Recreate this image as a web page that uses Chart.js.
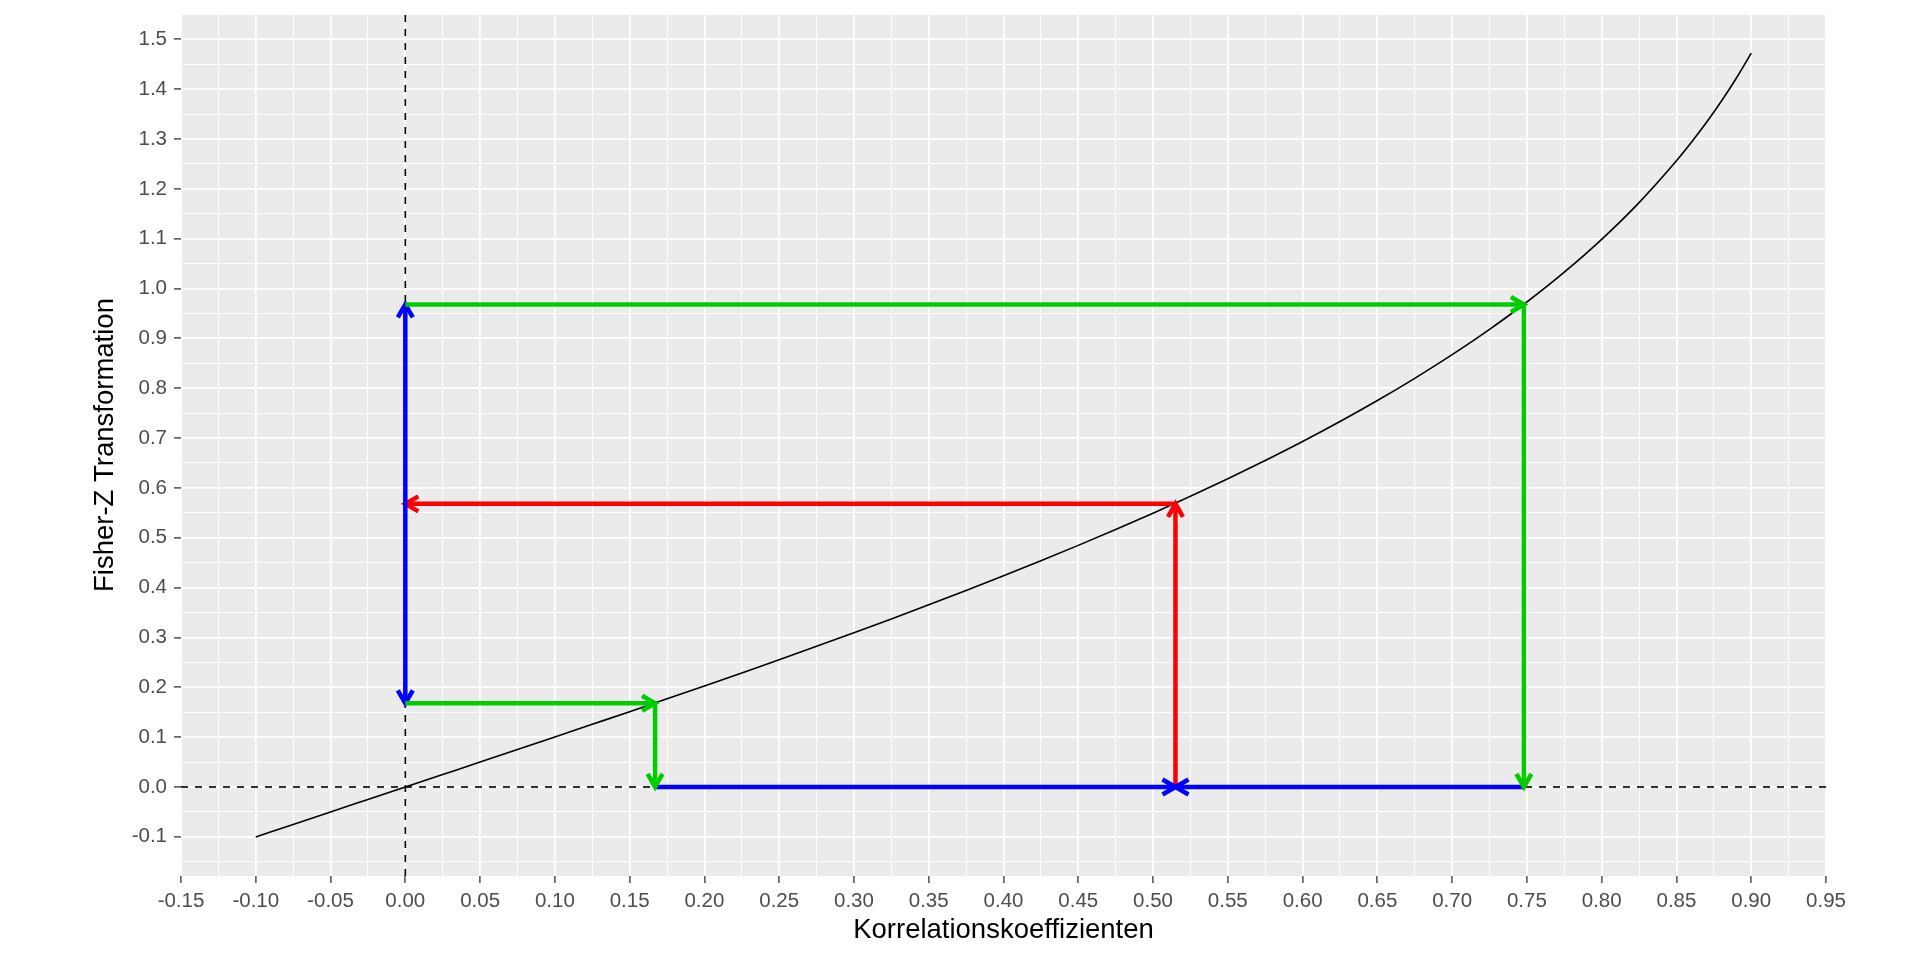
<!DOCTYPE html>
<html>
<head>
<meta charset="utf-8">
<title>Fisher-Z Transformation</title>
<script src="https://cdn.jsdelivr.net/npm/chart.js@4/dist/chart.umd.min.js"></script>
<style>
  body { margin: 0; background: #fff; }
  canvas { display: block; }
</style>
</head>
<body>
<canvas id="myChart" width="1920" height="960"></canvas>
<script>
// curve: correlation r against Fisher z
const rValues = [-0.1, -0.075, -0.05, -0.025, 0, 0.025, 0.05, 0.075, 0.1, 0.125, 0.15, 0.175,
  0.2, 0.225, 0.25, 0.275, 0.3, 0.325, 0.35, 0.375, 0.4, 0.425, 0.45, 0.475, 0.5, 0.525,
  0.55, 0.575, 0.6, 0.625, 0.65, 0.675, 0.7, 0.725, 0.75, 0.775, 0.8, 0.825, 0.85, 0.86,
  0.87, 0.88, 0.89, 0.9];
const zValues = [-0.1003, -0.0751, -0.05, -0.025, 0, 0.025, 0.05, 0.0751, 0.1003, 0.1257, 0.1511, 0.1768,
  0.2027, 0.2289, 0.2554, 0.2823, 0.3095, 0.3372, 0.3654, 0.3942, 0.4236, 0.4537, 0.4847, 0.5165, 0.5493, 0.5832,
  0.6184, 0.655, 0.6931, 0.7332, 0.7753, 0.8199, 0.8673, 0.9181, 0.973, 1.0328, 1.0986, 1.1723, 1.2562, 1.2933,
  1.3331, 1.3758, 1.4219, 1.4722];

// tick labels
const xTicks = [-0.15, -0.1, -0.05, 0, 0.05, 0.1, 0.15, 0.2, 0.25, 0.3, 0.35, 0.4, 0.45, 0.5,
  0.55, 0.6, 0.65, 0.7, 0.75, 0.8, 0.85, 0.9, 0.95];
const yTicks = [-0.1, 0, 0.1, 0.2, 0.3, 0.4, 0.5, 0.6, 0.7, 0.8, 0.9, 1.0, 1.1, 1.2, 1.3, 1.4, 1.5];

// the arrow points
const rLow = 0.167, zLow = 0.168;
const rHigh = 0.748, zHigh = 0.968;
const rMean = 0.515, zMean = 0.568;

const greenTopX = [0, rHigh],      greenTopY = [zHigh, zHigh];
const greenRightX = [rHigh, rHigh], greenRightY = [zHigh, 0];
const greenLowX = [0, rLow],       greenLowY = [zLow, zLow];
const greenDownX = [rLow, rLow],    greenDownY = [zLow, 0];
const blueUpX = [0, 0],            blueUpY = [zLow, zHigh];
const blueLeftX = [rLow, rMean],   blueLeftY = [0, 0];
const blueRightX = [rHigh, rMean], blueRightY = [0, 0];
const redUpX = [rMean, rMean],     redUpY = [0, zMean];
const redLeftX = [rMean, 0],       redLeftY = [zMean, zMean];

const X_MIN = -0.15, X_MAX = 0.95;
const Y_MIN = -0.1786, Y_MAX = 1.5508;

const FONT = "'Liberation Sans', Arial, sans-serif";

function pts(xs, ys) {
  return xs.map((x, i) => ({x: x, y: ys[i]}));
}

function withMinors(majors, lo, hi) {
  let step = majors[1] - majors[0];
  let out = [];
  for (let v = majors[0] - step / 2; v <= hi + 1e-9; v += step / 2) {
    v = Math.round(v * 1000) / 1000;
    if (v < lo - 1e-9) continue;
    let isMajor = majors.some(m => Math.abs(m - v) < 1e-6);
    out.push({value: v, minor: !isMajor});
  }
  return out;
}

function arrowSet(xs, ys, colour, order, both) {
  return {
    data: pts(xs, ys),
    showLine: true,
    borderColor: colour,
    borderWidth: 4.5,
    pointRadius: 0,
    order: order,
    arrowEnd: true,
    arrowStart: !!both
  };
}

const panelBg = {
  id: 'panelBg',
  beforeDraw(chart) {
    const {ctx, chartArea} = chart;
    ctx.save();
    ctx.fillStyle = '#EBEBEB';
    ctx.fillRect(chartArea.left, chartArea.top, chartArea.right - chartArea.left, chartArea.bottom - chartArea.top);
    ctx.restore();
  }
};

function drawHead(ctx, tip, from, colour) {
  const ang = Math.atan2(tip.y - from.y, tip.x - from.x);
  const len = 15, spread = Math.PI / 6;
  ctx.save();
  ctx.strokeStyle = colour;
  ctx.lineWidth = 4.5;
  ctx.lineJoin = 'miter';
  ctx.lineCap = 'butt';
  ctx.beginPath();
  ctx.moveTo(tip.x - len * Math.cos(ang - spread), tip.y - len * Math.sin(ang - spread));
  ctx.lineTo(tip.x, tip.y);
  ctx.lineTo(tip.x - len * Math.cos(ang + spread), tip.y - len * Math.sin(ang + spread));
  ctx.stroke();
  ctx.restore();
}

const arrowHeads = {
  id: 'arrowHeads',
  afterDatasetDraw(chart, args) {
    const ds = chart.data.datasets[args.index];
    const p = args.meta.data;
    if (!p || p.length < 2) return;
    if (ds.arrowEnd) drawHead(chart.ctx, p[p.length - 1], p[p.length - 2], ds.borderColor);
    if (ds.arrowStart) drawHead(chart.ctx, p[0], p[1], ds.borderColor);
  }
};

const gridWidth = (c) => (c.tick && c.tick.minor ? 0.9 : 1.8);
const tickCol = (c) => (c.tick && c.tick.minor ? 'rgba(0,0,0,0)' : '#333333');

let myChart = new Chart(document.getElementById('myChart'), {
  type: 'scatter',
  data: {
    datasets: [
      arrowSet(greenTopX, greenTopY, '#00CD00', 1),
      arrowSet(greenRightX, greenRightY, '#00CD00', 1),
      arrowSet(greenLowX, greenLowY, '#00CD00', 1),
      arrowSet(greenDownX, greenDownY, '#00CD00', 1),
      arrowSet(blueUpX, blueUpY, '#0000FF', 2, true),
      arrowSet(blueLeftX, blueLeftY, '#0000FF', 2),
      arrowSet(blueRightX, blueRightY, '#0000FF', 2),
      arrowSet(redUpX, redUpY, '#FF0000', 3),
      arrowSet(redLeftX, redLeftY, '#FF0000', 3),
      {
        data: pts(rValues, zValues),
        showLine: true,
        borderColor: '#000000',
        borderWidth: 1.6,
        pointRadius: 0,
        cubicInterpolationMode: 'monotone',
        order: 4
      },
      {
        // dashed line at z = 0
        data: pts([X_MIN, X_MAX], [0, 0]),
        showLine: true,
        borderColor: '#000000',
        borderWidth: 1.6,
        borderDash: [7, 7],
        pointRadius: 0,
        order: 5
      },
      {
        // dashed line at r = 0
        data: pts([0, 0], [Y_MIN, Y_MAX]),
        showLine: true,
        borderColor: '#000000',
        borderWidth: 1.6,
        borderDash: [7, 7],
        pointRadius: 0,
        order: 5
      }
    ]
  },
  options: {
    responsive: false,
    animation: false,
    events: [],
    layout: { padding: { top: 14, right: 94, left: 0, bottom: 0 } },
    plugins: {
      legend: { display: false },
      tooltip: { enabled: false }
    },
    scales: {
      x: {
        type: 'linear',
        min: X_MIN,
        max: X_MAX,
        afterBuildTicks: (axis) => { axis.ticks = withMinors(xTicks, X_MIN, X_MAX); },
        afterFit: (axis) => {
          axis.height = 84;
          axis.paddingLeft = 0;
          axis.paddingRight = 0;
        },
        border: { display: false },
        grid: {
          color: '#FFFFFF',
          lineWidth: gridWidth,
          tickColor: tickCol,
          tickLength: 7,
          tickWidth: 1.3
        },
        ticks: {
          autoSkip: false,
          maxRotation: 0,
          padding: 6,
          color: '#4D4D4D',
          font: { family: FONT, size: 20.5 },
          callback: (v, i, t) => (t[i].minor ? '' : v.toFixed(2))
        },
        title: {
          display: true,
          text: 'Korrelationskoeffizienten',
          color: '#000000',
          font: { family: FONT, size: 27.5 },
          padding: { top: 0, bottom: 13.5 }
        }
      },
      y: {
        type: 'linear',
        min: Y_MIN,
        max: Y_MAX,
        afterBuildTicks: (axis) => { axis.ticks = withMinors(yTicks, Y_MIN, Y_MAX); },
        afterFit: (axis) => {
          axis.width = 181;
          axis.paddingTop = 0;
          axis.paddingBottom = 0;
        },
        border: { display: false },
        grid: {
          color: '#FFFFFF',
          lineWidth: gridWidth,
          tickColor: tickCol,
          tickLength: 7,
          tickWidth: 1.3
        },
        ticks: {
          autoSkip: false,
          padding: 7,
          color: '#4D4D4D',
          font: { family: FONT, size: 20.5 },
          callback: (v, i, t) => (t[i].minor ? '' : v.toFixed(1))
        },
        title: {
          display: true,
          text: 'Fisher-Z Transformation',
          color: '#000000',
          font: { family: FONT, size: 27.5 },
          padding: { top: 88.5, bottom: 0 }
        }
      }
    }
  },
  plugins: [panelBg, arrowHeads]
});
</script>
</body>
</html>
